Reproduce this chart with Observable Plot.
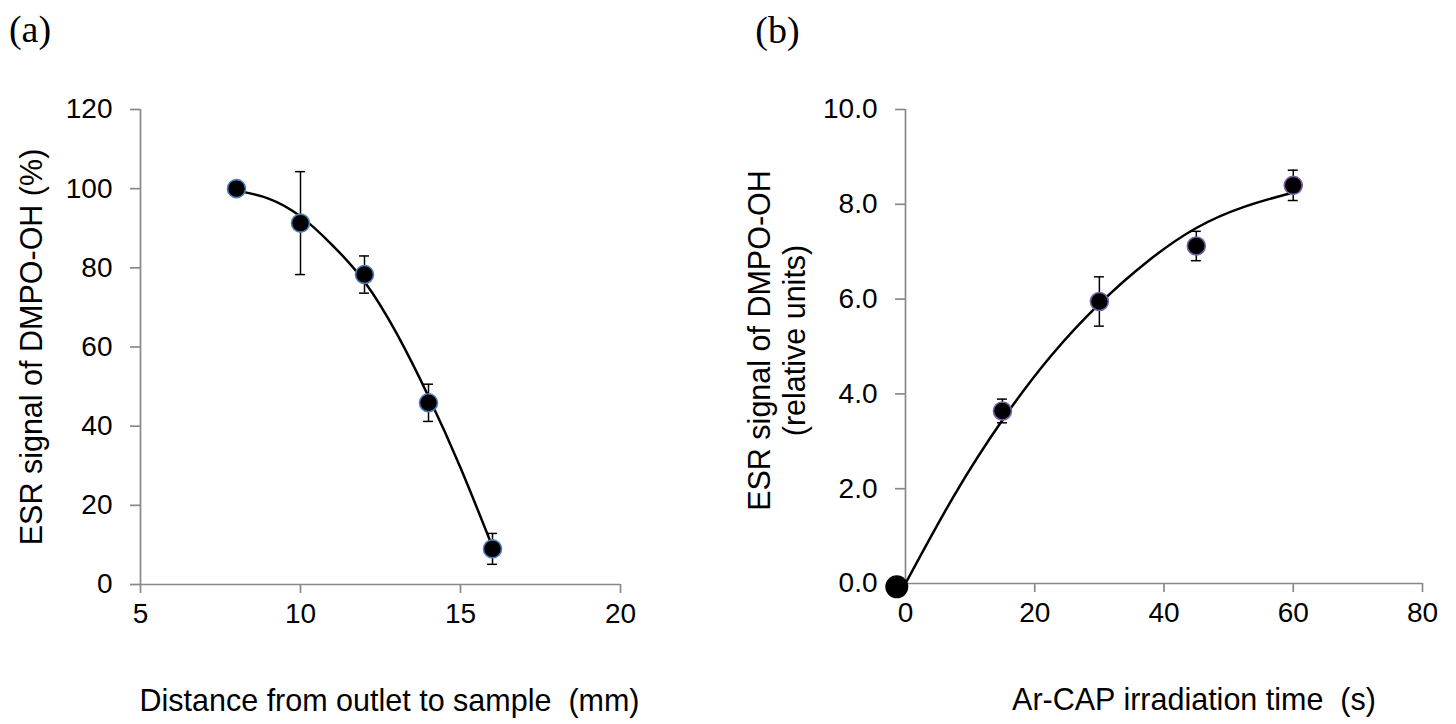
<!DOCTYPE html>
<html>
<head>
<meta charset="utf-8">
<script src="https://cdn.jsdelivr.net/npm/d3@7"></script>
<script src="https://cdn.jsdelivr.net/npm/@observablehq/plot@0.6"></script>
<style>
  html, body { margin: 0; padding: 0; background: #fff; }
  #wrap { display: flex; width: 1456px; height: 724px; }
</style>
</head>
<body>
<div id="wrap"></div>
<script>
// ---------- Panel (a) data ----------
const distance = [8, 10, 12, 14, 16];
const signalPct = [100, 91.3, 78.3, 45.9, 9.0];
const signalPctErr = [0, 13.0, 4.7, 4.7, 3.9];
const trendA_x = [8, 9, 10, 11, 12, 13, 14, 15, 16];
const trendA_y = [99.5, 97.5, 93.0, 85.7, 76.5, 63.5, 47.5, 29.5, 9.5];
const ticksAx = [5, 10, 15, 20];
const ticksAy = [0, 20, 40, 60, 80, 100, 120];

// ---------- Panel (b) data ----------
const irrTime = [15, 30, 45, 60];
const signalRel = [3.64, 5.95, 7.12, 8.40];
const signalRelErr = [0.25, 0.52, 0.31, 0.32];
const originX = [-1.35];
const originY = [-0.07];
const trendB_x = [0, 7.5, 15, 22.5, 30, 37.5, 45, 52.5, 60];
const trendB_y = [0, 1.85, 3.45, 4.8, 5.9, 6.8, 7.5, 7.95, 8.25];
const ticksBx = [0, 20, 40, 60, 80];
const ticksBy = [0, 2, 4, 6, 8, 10];

const labelA = "(a)";
const labelB = "(b)";
const xTitleA = "Distance from outlet to sample \u00a0(mm)";
const yTitleA = "ESR signal of DMPO-OH (%)";
const xTitleB = "Ar-CAP irradiation time \u00a0(s)";
const yTitleB = "ESR signal of DMPO-OH\n(relative units)";

const SANS = "'Liberation Sans', Arial, Helvetica, sans-serif";
const SERIF = "'Liberation Serif', 'Times New Roman', serif";
const AXIS = "#898989";

const rows = (xs, ys, es) => xs.map((x, i) => ({x, y: ys[i], e: es ? es[i] : 0}));
const caps = (r) => r.filter(d => d.e > 0).flatMap(d => [{x: d.x, y: d.y + d.e}, {x: d.x, y: d.y - d.e}]);

function panel(opts) {
  const pts = rows(opts.px, opts.py, opts.pe);
  const errs = pts.filter(d => d.e > 0);
  const trend = rows(opts.tx, opts.ty);
  return Plot.plot({
    width: 728,
    height: 724,
    marginLeft: opts.ml,
    marginRight: opts.mr,
    marginTop: opts.mt,
    marginBottom: opts.mb,
    style: {fontFamily: SANS, fontSize: "28px", color: "black", background: "white", overflow: "visible"},
    x: {domain: opts.xd},
    y: {domain: opts.yd},
    marks: [
      Plot.ruleX([opts.xd[0]], {stroke: AXIS, strokeWidth: 1.7}),
      Plot.ruleY([opts.yd[0]], {stroke: AXIS, strokeWidth: 1.7}),
      Plot.axisX({ticks: opts.xt, label: null, tickSize: 9, tickPadding: 10, stroke: AXIS, strokeWidth: 1.7, fill: "black", fontSize: 28, tickFormat: d3.format("d")}),
      Plot.axisY({ticks: opts.yt, label: null, tickSize: 10, tickPadding: 18, stroke: AXIS, strokeWidth: 1.7, fill: "black", fontSize: 28, tickFormat: opts.yf}),
      Plot.line(trend, {x: "x", y: "y", curve: "natural", stroke: "black", strokeWidth: 2.5}),
      Plot.ruleX(errs, {x: "x", y1: d => d.y - d.e, y2: d => d.y + d.e, stroke: "black", strokeWidth: 1.5}),
      Plot.ruleY(caps(pts), {x1: "x", x2: "x", y: "y", insetLeft: -5, insetRight: -5, stroke: "black", strokeWidth: 1.5}),
      ...(opts.extra || []),
      Plot.dot(pts, {x: "x", y: "y", r: 9, fill: "black", stroke: opts.dotStroke, strokeWidth: 1.6}),
      Plot.text([opts.label], {text: d => d, frameAnchor: "top-left", dx: opts.labelDx, dy: opts.labelDy, textAnchor: "middle", lineAnchor: "middle", fontFamily: SERIF, fontSize: 38, fill: "black"}),
      Plot.text([opts.xTitle], {text: d => d, frameAnchor: "bottom", dx: opts.xTitleDx, dy: 117, textAnchor: "middle", lineAnchor: "middle", fontSize: 30.5, fill: "black"}),
      Plot.text([opts.yTitle], {text: d => d, frameAnchor: "left", dx: opts.yTitleDx, dy: opts.yTitleDy, rotate: -90, textAnchor: "middle", lineAnchor: "middle", fontSize: 30.5, lineHeight: 1.15, fill: "black"})
    ]
  });
}

const a = panel({
  px: distance, py: signalPct, pe: signalPctErr,
  tx: trendA_x, ty: trendA_y,
  xd: [5, 20], yd: [0, 120], xt: ticksAx, yt: ticksAy, yf: d3.format("d"),
  ml: 140, mr: 108, mt: 109, mb: 140,
  dotStroke: "#4a7ebb",
  label: labelA, labelDx: -110.5, labelDy: -80,
  xTitle: xTitleA, xTitleDx: 9,
  yTitle: yTitleA, yTitleDx: -110, yTitleDy: 0
});

const originPts = rows(originX, originY);
const b = panel({
  px: irrTime, py: signalRel, pe: signalRelErr,
  tx: trendB_x, ty: trendB_y,
  xd: [0, 80], yd: [0, 10], xt: ticksBx, yt: ticksBy, yf: d3.format(".1f"),
  ml: 177, mr: 34, mt: 109, mb: 141,
  dotStroke: "#7d5fa5",
  extra: [Plot.dot(originPts, {x: "x", y: "y", r: 11.5, fill: "black"})],
  label: labelB, labelDx: -128, labelDy: -79,
  xTitle: xTitleB, xTitleDx: 30,
  yTitle: yTitleB, yTitleDx: -129, yTitleDy: -6
});

document.getElementById("wrap").append(a, b);
</script>
</body>
</html>
